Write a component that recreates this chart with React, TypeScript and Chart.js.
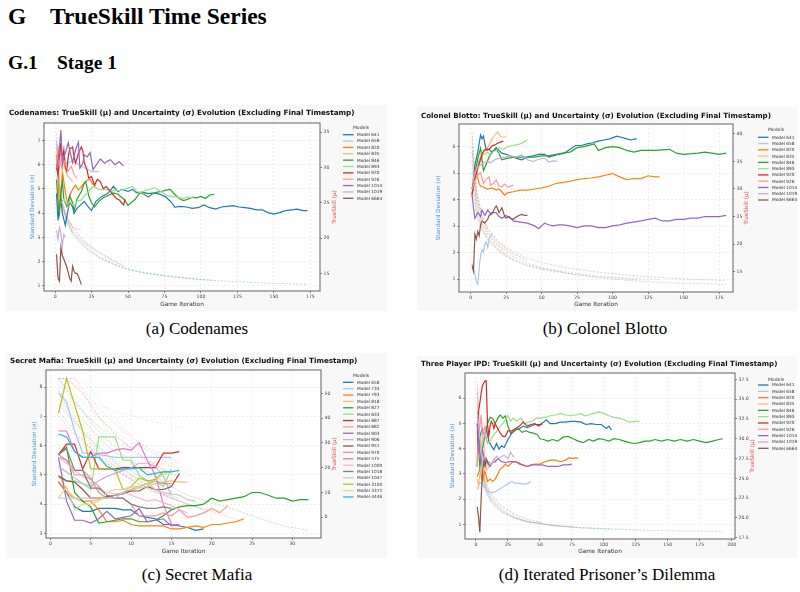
import React, { useEffect, useRef } from "react";
import { Chart, registerables } from "chart.js";
Chart.register(...registerables);

type Pt = [number, number];

const TAB20 = ["#1f77b4","#aec7e8","#ff7f0e","#ffbb78","#2ca02c","#98df8a","#d62728","#ff9896","#9467bd","#c5b0d5","#8c564b","#c49c94","#e377c2","#f7b6d2","#7f7f7f","#c7c7c7","#bcbd22","#dbdb8d","#17becf","#9edae5"];

// ================= (a) Codenames =================
const cnModels = ["Model 641","Model 658","Model 820","Model 835","Model 846","Model 893","Model 920","Model 926","Model 1014","Model 1019","Model 6664"];
const cnMu: Pt[][] = [
  [[1,26.3],[2,22.5],[3,24.5],[4,25.5],[5,23.5],[7,21.8],[8,23.0],[10,25.2],[12,24.4],[13,23.5],[15,24.2],[17,24.6],[20,25.2],[22,24.6],[25,23.9],[28,25.2],[32,25.9],[36,26.3],[40,27.3],[43,26.6],[46,26.9],[50,26.6],[53,26.9],[56,26.4],[60,26.5],[64,26.3],[68,26.4],[72,26.2],[76,25.8],[80,25.0],[82,24.4],[86,24.5],[90,24.4],[94,24.2],[98,24.3],[102,24.7],[106,24.3],[110,24.1],[114,24.4],[118,24.5],[122,24.6],[126,24.4],[130,24.3],[134,24.2],[138,24.0],[142,24.0],[146,23.6],[150,23.4],[154,23.6],[158,23.9],[162,24.0],[166,24.1],[170,23.9],[173,23.9]],
  [[1,33.5],[2,31.5],[4,32.0],[6,31.0],[8,30.5],[11,30.9],[15,30.6],[20,30.0],[25,29.4],[30,29.4]],
  [[1,31.8],[2,29.0],[3,24.0],[4,26.0],[5,29.5],[6,28.0],[7,26.5],[8,25.5],[9,24.5],[10,26.0],[12,26.9],[14,27.5],[16,26.8],[18,27.3],[20,27.8],[22,28.2],[24,28.3],[26,27.6],[28,27.4]],
  [[1,33.0],[2,31.5],[3,32.5],[4,30.5],[5,29.5],[6,31.0],[8,29.0],[10,28.5],[12,28.0]],
  [[1,28.3],[2,25.0],[3,23.5],[4,26.5],[5,28.0],[6,25.5],[8,24.5],[10,26.0],[12,25.0],[13,23.8],[15,25.5],[18,26.6],[20,27.8],[21,28.0],[23,26.0],[25,25.0],[27,24.4],[30,25.2],[33,25.7],[36,26.0],[40,26.4],[43,26.2],[46,25.7],[48,25.3],[50,24.6],[52,25.0],[55,25.5],[58,26.4],[61,26.2],[64,25.8],[67,26.3],[70,26.5],[73,26.6],[76,26.8],[79,26.9],[82,26.2],[85,25.6],[88,25.3],[91,25.5],[94,25.8],[97,25.7],[100,25.9],[103,25.6],[106,26.1],[109,26.2]],
  [[4,24.9],[6,25.5],[8,24.8],[10,25.2],[13,24.5],[15,25.2],[18,25.4],[20,26.0],[23,26.6],[26,27.3],[29,27.0],[32,26.8],[35,26.9],[38,26.6],[41,26.8],[44,26.7],[47,26.9],[50,27.1],[53,27.3],[56,26.6],[59,26.4],[62,26.8],[65,26.9],[68,27.1],[71,26.8],[74,26.4],[77,26.0],[80,25.9],[84,25.8],[88,25.6],[91,25.8],[95,25.7]],
  [[1,30.0],[2,29.0],[3,31.5],[4,33.5],[5,31.0],[6,32.5],[7,30.0],[8,29.5],[9,31.5],[10,32.6],[12,32.9],[13,31.5],[14,30.6],[16,32.0],[18,32.9],[19,32.4],[20,30.7],[22,29.6],[23,28.5],[25,28.7],[27,27.5],[29,28.3],[31,28.0],[33,27.0],[35,27.3],[38,26.6],[40,26.1],[42,25.6],[44,25.4],[46,24.9],[47,24.7],[48,25.6]],
  [[1,31.0],[2,32.5],[3,30.0],[5,31.5],[7,30.5],[9,29.5],[11,30.2],[13,29.0],[15,28.5]],
  [[1,30.1],[2,31.0],[3,33.0],[4,35.3],[5,30.4],[6,31.5],[7,32.0],[9,33.5],[10,32.5],[12,30.7],[14,32.5],[16,33.6],[17,29.9],[19,30.6],[20,31.8],[22,31.5],[24,32.1],[26,29.7],[28,30.3],[31,31.2],[34,30.6],[36,30.9],[38,31.1],[41,30.4],[44,30.8],[47,30.2]],
  [[1,21.1],[2,19.8],[3,21.5],[4,20.6],[5,18.9],[6,20.5],[7,20.1]],
  [[1,17.7],[2,14.3],[3,13.9],[4,18.7],[5,17.5],[6,17.0],[8,15.9],[10,14.3],[11,13.9],[12,16.0],[13,15.3],[14,15.0],[15,15.0],[16,14.6],[18,13.4]],
];
const cnSigma: Pt[][] = [
  [[1,7.3],[3,5.2],[5,4.4],[8,3.7],[12,3.2],[16,2.9],[20,2.65],[25,2.4],[30,2.2],[40,1.9],[50,1.68],[60,1.55],[75,1.42],[90,1.32],[100,1.25],[120,1.18],[140,1.12],[160,1.08],[173,1.06]],
  [[1,6.5],[4,4.5],[8,3.7],[12,3.2],[20,2.7],[30,2.25]],
  [[1,6.0],[4,4.4],[8,3.7],[12,3.2],[20,2.75],[28,2.4]],
  [[1,5.5],[4,4.3],[8,3.8],[12,3.4]],
  [[1,6.2],[3,5.0],[5,4.3],[8,3.6],[12,3.1],[16,2.85],[20,2.6],[25,2.35],[30,2.15],[40,1.88],[50,1.66],[60,1.53],[75,1.4],[90,1.3],[109,1.22]],
  [[1,5.8],[4,4.4],[8,3.7],[12,3.2],[20,2.7],[30,2.2],[40,1.9],[50,1.7],[60,1.56],[75,1.43],[95,1.3]],
  [[1,6.8],[4,4.6],[8,3.9],[12,3.4],[20,2.85],[30,2.4],[40,2.05],[48,1.8]],
  [[1,5.5],[5,4.0],[10,3.6],[15,3.35]],
  [[1,7.0],[4,4.6],[8,3.8],[12,3.3],[20,2.8],[30,2.35],[40,2.0],[47,1.8]],
  [[1,6.8],[3,5.0],[5,4.4],[7,4.0]],
  [[1,6.0],[4,4.5],[8,3.8],[12,3.4],[18,3.3]],
];
const cnXTicks = [0,25,50,75,100,125,150,175];
const cnSigmaTicks = [1,2,3,4,5,6,7];
const cnMuTicks = [15,20,25,30,35];

// ================= (b) Colonel Blotto =================
const cbModels = ["Model 641","Model 658","Model 820","Model 835","Model 846","Model 893","Model 920","Model 926","Model 1014","Model 1019","Model 6664"];
const cbMu: Pt[][] = [
  [[1,29.0],[3,34.3],[5,36.7],[7,39.8],[8,39.1],[9,39.6],[11,37.0],[13,37.2],[15,36.7],[18,37.5],[20,37.0],[22,36.5],[25,36.3],[28,36.0],[30,35.8],[33,35.5],[36,35.3],[40,35.8],[44,36.0],[48,36.3],[52,36.3],[55,35.8],[58,36.0],[62,36.3],[66,36.5],[70,37.2],[74,37.9],[78,37.9],[82,38.2],[86,38.4],[90,38.7],[94,38.9],[98,39.1],[103,39.6],[106,39.4],[110,39.1],[113,38.9],[116,39.1],[117,39.1]],
  [[1,16.5],[2,15.5],[3,14.5],[4,13.2],[5,12.7],[6,15.5],[7,18.0],[8,19.0],[9,18.5],[10,20.0],[11,20.4],[12,19.4],[13,20.9],[14,21.5],[15,21.8]],
  [[1,30.0],[2,31.5],[3,33.0],[4,34.3],[5,32.0],[6,31.0],[7,30.5],[8,30.5],[10,30.2],[12,30.0],[15,30.2],[18,29.8],[20,30.0],[22,29.5],[24,28.9],[26,29.3],[30,29.5],[35,29.8],[40,29.8],[45,30.0],[50,30.2],[55,30.5],[60,31.0],[65,31.2],[70,31.4],[75,31.7],[80,31.9],[85,32.0],[90,32.2],[95,32.5],[100,32.8],[105,32.2],[110,31.7],[115,31.9],[120,31.9],[125,32.4],[130,32.2],[133,32.2]],
  [[1,28.5],[3,32.0],[5,33.5],[7,35.0],[9,36.5],[11,37.2],[13,38.0],[15,39.0],[17,39.8],[19,40.4],[21,39.5],[23,39.4],[25,39.5]],
  [[1,30.0],[3,32.5],[5,35.5],[7,37.4],[9,33.3],[11,34.5],[13,35.8],[15,36.7],[18,37.2],[20,36.5],[22,35.3],[25,35.5],[30,35.8],[35,35.8],[40,35.8],[45,35.8],[50,36.0],[55,36.0],[60,36.3],[65,36.5],[70,36.7],[75,37.5],[80,37.7],[87,38.2],[90,37.0],[95,37.5],[100,37.7],[105,37.5],[110,37.0],[115,36.7],[120,37.0],[130,37.0],[140,37.2],[145,36.5],[150,36.3],[160,36.5],[165,36.7],[170,36.5],[175,36.3],[180,36.5]],
  [[2,31.0],[4,33.5],[6,35.3],[8,36.5],[10,36.3],[12,36.7],[14,36.0],[16,36.8],[18,37.0],[20,37.5],[23,37.2],[26,37.7],[29,37.9],[32,38.0],[35,38.2],[38,38.6],[40,39.0]],
  [[1,29.0],[3,31.9],[5,33.8],[7,35.5],[9,36.9],[11,37.3],[13,37.2],[15,37.8],[17,38.0],[19,38.3],[21,38.5],[23,38.7]],
  [[1,30.0],[3,31.5],[5,32.5],[7,33.0],[9,31.0],[11,31.8],[13,32.2],[14,30.7],[16,31.0],[18,31.7],[20,30.5],[22,30.4],[24,30.9],[26,30.3],[28,30.5],[30,30.7]],
  [[1,29.0],[2,26.5],[3,24.7],[5,25.7],[7,25.0],[8,26.2],[10,25.2],[12,26.2],[14,25.5],[15,25.7],[18,25.7],[20,25.0],[22,24.7],[25,25.2],[28,24.7],[30,24.2],[35,24.0],[40,23.8],[45,23.3],[48,22.8],[52,23.8],[55,23.5],[58,23.3],[62,23.5],[65,23.5],[70,23.3],[75,23.0],[80,23.3],[85,23.3],[90,23.0],[95,23.0],[100,23.3],[105,23.5],[110,23.8],[115,24.0],[120,24.2],[125,24.5],[130,24.7],[135,24.2],[140,24.2],[145,24.5],[150,24.5],[155,24.7],[160,24.7],[165,25.0],[170,25.0],[175,25.0],[180,25.2]],
  [[1,31.0],[3,33.0],[5,34.0],[8,34.5],[11,35.0],[14,34.8],[17,35.3],[20,35.6],[24,35.8],[28,36.0],[32,35.8],[36,36.2],[40,35.3],[44,35.0],[48,35.4],[52,35.6],[55,34.9],[58,35.1],[61,35.0]],
  [[1,16.1],[2,15.1],[3,21.8],[4,20.9],[5,22.3],[6,21.5],[7,23.5],[8,24.2],[10,23.8],[12,24.5],[13,25.2],[15,25.5],[17,26.5],[18,26.9],[19,26.4],[20,25.7],[22,26.6],[24,25.0],[25,24.7],[27,25.0],[28,24.7],[30,24.5],[32,24.9],[34,25.2],[36,25.4],[38,25.2],[40,25.2]],
];
const cbSigma: Pt[][] = [
  [[1,5.0],[4,3.6],[8,2.9],[12,2.5],[20,2.05],[30,1.7],[40,1.5],[50,1.38],[70,1.2],[90,1.08],[117,0.98]],
  [[1,4.5],[4,3.4],[8,2.8],[12,2.5],[15,2.3]],
  [[1,5.5],[4,3.8],[8,3.0],[12,2.6],[20,2.1],[30,1.75],[40,1.55],[50,1.42],[70,1.25],[90,1.12],[110,1.04],[133,0.98]],
  [[1,4.8],[4,3.6],[8,2.9],[12,2.55],[20,2.1],[25,1.95]],
  [[1,6.0],[4,4.2],[8,3.3],[12,2.9],[20,2.4],[30,2.05],[40,1.8],[50,1.62],[70,1.4],[90,1.26],[110,1.15],[130,1.07],[150,1.0],[180,0.95]],
  [[1,5.2],[4,3.9],[8,3.1],[12,2.75],[20,2.3],[30,1.95],[40,1.75]],
  [[1,5.8],[4,4.0],[8,3.1],[12,2.7],[20,2.2],[23,2.1]],
  [[1,4.6],[4,3.5],[8,2.8],[12,2.45],[20,2.0],[30,1.7]],
  [[1,6.3],[4,4.3],[8,3.3],[12,2.8],[20,2.25],[30,1.85],[40,1.6],[50,1.42],[70,1.2],[90,1.05],[110,0.95],[130,0.88],[150,0.84],[180,0.8]],
  [[1,5.6],[4,3.9],[8,3.0],[12,2.6],[20,2.1],[30,1.75],[40,1.5],[50,1.35],[61,1.25]],
  [[1,6.55],[4,4.4],[8,3.4],[12,2.9],[20,2.35],[30,1.95],[40,1.7]],
];
const cbXTicks = [0,25,50,75,100,125,150,175];
const cbSigmaTicks = [1,2,3,4,5,6];
const cbMuTicks = [15,20,25,30,35,40];

// ================= (c) Secret Mafia =================
const smModels = ["Model 658","Model 734","Model 793","Model 818","Model 827","Model 833","Model 887","Model 882","Model 903","Model 906","Model 951","Model 970","Model 575","Model 1000","Model 1018","Model 1047","Model 3100","Model 3372","Model 4446"];
const smMu: Pt[][] = [
  [[1,14.4],[2,10.0],[3,4.2],[4,2.4],[5,2.4],[6,3.6],[7,3.6],[8,3.6],[9,3.0],[10,3.0],[11,0.6],[12,0.0],[13,-0.6],[14,-2.9],[15,-2.9],[16,-3.5],[17,-4.1],[18,-5.3],[19,-4.7]],
  [[1,50.1],[2,46.5],[3,34.8],[4,25.9],[5,25.9],[6,25.3],[7,24.8],[8,24.2],[9,24.2],[10,24.2],[11,24.2],[12,24.2],[13,24.2],[14,24.2],[15,24.2]],
  [[1,14.2],[2,10.0],[3,7.7],[4,6.5],[5,6.5],[6,3.0],[7,-1.8],[8,-1.8],[9,-1.2],[10,-2.9],[11,-3.5],[12,-3.5],[13,-3.5],[14,-3.5],[15,-4.7],[16,-4.7],[17,-4.1],[18,-3.5],[19,-4.1],[20,-2.9],[21,-2.9],[22,-2.3],[23,-1.8],[24,-0.6]],
  [[1,17.1],[2,11.2],[3,7.7],[4,6.5],[5,6.5],[6,7.1],[7,7.7],[8,8.9],[9,10.0],[10,10.6],[11,11.8],[12,12.4],[13,13.6],[14,14.2],[15,14.7],[16,14.2],[17,14.2]],
  [[1,25.3],[2,28.3],[3,10.0],[4,6.5],[5,4.2],[6,-2.3],[7,-1.8],[8,-1.2],[9,-0.6],[10,-0.6],[11,-1.8],[12,-1.8],[13,-1.2],[14,0.6],[15,3.0],[16,4.2],[17,4.7],[18,4.7],[19,5.3],[20,7.7],[21,6.5],[22,7.1],[23,7.7],[24,8.3],[25,10.0],[26,10.0],[27,8.9],[28,7.7],[29,7.7],[30,6.5],[31,7.1],[32,7.1]],
  [[1,17.1],[2,14.7],[3,14.7],[4,13.6],[5,11.2],[6,32.4],[7,32.4],[8,32.4],[9,23.0],[10,23.0],[11,17.1],[12,14.7],[13,14.7],[14,12.4],[15,19.5]],
  [[1,25.3],[2,29.5],[3,29.5],[4,19.5],[5,26.5],[6,19.5],[7,19.5],[8,19.5],[9,20.0],[10,20.0],[11,20.0],[12,20.0],[13,20.0],[14,25.9],[15,25.9],[16,26.5]],
  [[1,24.2],[2,23.0],[3,17.1],[4,17.1],[5,15.3],[6,12.4],[7,8.9],[8,7.7],[9,7.7],[10,5.3],[11,0.6],[12,0.6],[13,0.6],[14,1.8],[15,0.6],[16,3.0],[17,0.0],[18,0.6],[19,1.8],[20,3.6],[21,1.8],[22,4.7]],
  [[1,24.2],[2,6.5],[3,-1.2],[4,-1.2],[5,-2.3],[6,-0.6],[7,2.4],[8,-0.6],[9,0.0],[10,0.6],[11,3.6],[12,-1.8],[13,-1.2],[14,-0.6],[15,-3.5],[16,-2.9]],
  [[1,20.6],[2,18.3],[3,15.9],[4,13.6],[5,12.4],[6,14.7],[7,16.5],[8,17.7],[9,18.9],[10,20.0],[11,21.8],[12,21.8],[13,20.6],[14,16.5],[15,8.9]],
  [[1,16.5],[2,14.7],[3,14.2],[4,11.2],[5,7.7],[6,7.7],[7,8.3],[8,8.9],[9,9.4],[10,10.6],[11,10.6],[12,12.4],[13,11.2],[14,11.2],[15,12.4],[16,17.7]],
  [[1,25.3],[2,23.0],[3,18.9],[4,18.9],[5,15.9],[6,10.0],[7,7.7],[8,8.9],[9,10.0],[10,11.2],[11,12.4],[12,13.6],[13,14.7],[14,13.6],[15,13.6]],
  [[1,34.8],[2,34.8],[3,26.5],[4,24.2],[5,24.2],[6,25.9],[7,25.9],[8,27.1],[9,27.7],[10,27.1],[11,30.1],[12,23.0],[13,17.1],[14,5.3],[15,-2.9],[16,-2.9]],
  [[1,24.2],[2,21.8],[3,18.9],[4,16.5],[5,13.6],[6,11.2],[7,10.0],[8,9.4],[9,10.0],[10,8.9],[11,7.7],[12,6.5],[13,7.1],[14,5.9],[15,4.7],[16,3.0],[17,1.8]],
  [[1,25.3],[2,27.7],[3,18.9],[4,18.9],[5,11.8],[6,11.8],[7,8.9],[8,7.7],[9,7.7],[10,5.3],[11,4.2],[12,3.6],[13,3.6],[14,4.2],[15,3.6]],
  [[1,7.7],[2,7.7],[3,7.7],[4,7.7],[5,7.7],[6,7.7],[7,7.7],[8,7.7],[9,10.0],[10,12.4],[11,12.4],[12,13.6],[13,11.2],[14,10.0],[15,9.4],[16,8.9],[17,7.1],[18,6.5]],
  [[1,41.8],[2,56.0],[3,45.4],[4,34.8],[5,19.5],[6,19.5],[7,19.5],[8,19.5],[9,11.2],[10,12.4],[11,15.9],[12,14.7],[13,15.3],[14,18.3],[15,18.3]],
  [[1,7.7],[2,12.4],[3,3.0],[4,5.3],[5,5.3],[6,6.5],[7,10.0],[8,11.2],[9,11.2],[10,12.4],[11,11.8],[12,12.4],[13,14.7],[14,17.1],[15,18.9]],
  [[1,33.6],[2,32.4],[3,26.5],[4,24.2],[5,24.2],[6,24.2],[7,20.6],[8,18.9],[9,19.5],[10,19.5],[11,20.0],[12,17.1],[13,17.7],[14,18.3],[15,18.3],[16,18.9]],
];
const smSigma: Pt[][] = [
  [[1,7.8],[2,7.3],[4,6.5],[6,5.9],[8,5.4],[10,5.0],[12,4.65],[14,4.35],[16,4.1],[19,3.8]],
  [[1,8.3],[3,7.6],[5,6.9],[7,6.3],[9,5.8],[11,5.4],[13,5.1],[15,4.8]],
  [[1,7.6],[3,6.8],[5,6.1],[7,5.5],[9,5.1],[12,4.6],[15,4.2],[18,3.9],[21,3.65],[24,3.4]],
  [[1,8.3],[3,8.1],[5,7.3],[7,6.6],[9,6.1],[11,5.7],[13,5.4],[15,5.3],[17,5.2]],
  [[1,8.3],[3,7.5],[5,6.8],[7,6.2],[9,5.7],[11,5.3],[13,4.95],[15,4.6],[17,4.3],[20,4.05],[23,3.8],[26,3.5],[29,3.25],[32,3.1]],
  [[1,8.0],[3,7.4],[5,6.9],[7,6.5],[9,6.1],[11,5.8],[13,5.6],[15,5.4]],
  [[1,8.3],[2,8.3],[4,7.8],[6,7.0],[8,6.4],[10,5.9],[12,5.5],[14,5.2],[16,4.9]],
  [[1,7.5],[3,6.7],[5,6.0],[7,5.5],[9,5.05],[11,4.7],[13,4.4],[15,4.2],[17,4.0],[19,3.85],[22,3.65]],
  [[1,7.2],[3,6.5],[5,5.9],[7,5.4],[9,5.0],[11,4.65],[13,4.4],[16,4.1]],
  [[1,8.3],[3,7.8],[5,7.2],[7,6.7],[9,6.3],[11,6.0],[13,5.7],[15,5.5]],
  [[1,7.0],[3,6.4],[5,5.9],[7,5.4],[9,5.0],[11,4.7],[13,4.45],[16,4.2]],
  [[1,8.1],[3,7.5],[5,6.9],[7,6.4],[9,6.0],[11,5.6],[13,5.3],[15,5.05]],
  [[1,8.3],[2,8.3],[3,8.3],[5,7.6],[7,7.0],[9,6.5],[11,6.1],[13,5.8],[16,5.4]],
  [[1,8.3],[3,8.3],[5,7.4],[7,7.3],[9,7.1],[11,6.95],[13,6.8],[15,6.7],[17,6.6]],
  [[1,7.9],[3,7.2],[5,6.6],[7,6.0],[9,5.6],[11,5.2],[13,4.9],[15,4.6]],
  [[1,8.3],[3,8.3],[5,8.0],[7,7.2],[9,6.6],[11,6.1],[13,5.7],[15,5.3],[18,4.9]],
  [[1,7.9],[3,7.0],[5,6.3],[7,5.7],[9,5.2],[11,4.85],[13,4.55],[15,4.3]],
  [[1,7.7],[3,7.1],[5,6.5],[7,6.0],[9,5.6],[11,5.25],[13,4.95],[15,4.7]],
  [[1,7.4],[3,6.8],[5,6.2],[7,5.7],[9,5.3],[11,4.95],[13,4.65],[16,4.3]],
];
const smXTicks = [0,5,10,15,20,25,30];
const smSigmaTicks = [3,4,5,6,7,8];
const smMuTicks = [0,10,20,30,40,50];

// ================= (d) Three Player IPD =================
const ipdModels = ["Model 641","Model 658","Model 820","Model 835","Model 846","Model 893","Model 920","Model 926","Model 1014","Model 1019","Model 6664"];
const ipdMu: Pt[][] = [
  [[1,31.9],[2,28.7],[3,30.3],[5,31.3],[7,30.3],[8,31.3],[10,29.7],[12,29.1],[14,28.6],[16,29.4],[18,28.7],[20,29.1],[22,28.9],[25,29.9],[28,30.7],[31,31.1],[34,31.3],[37,31.6],[40,31.4],[43,31.6],[46,31.8],[50,31.8],[53,32.1],[55,32.4],[58,31.9],[62,31.9],[66,32.1],[70,32.1],[74,32.2],[78,32.2],[82,32.1],[86,31.8],[90,31.9],[94,31.8],[98,31.8],[102,31.3],[104,31.6],[106,31.1]],
  [[1,23.6],[3,24.5],[5,24.3],[8,23.5],[10,23.3],[13,23.2],[15,23.3],[18,23.6],[20,23.8],[22,24.0],[25,24.3],[28,24.6],[30,24.4],[33,24.4],[36,24.3],[38,24.3],[40,24.3],[43,24.6]],
  [[1,25.2],[3,26.2],[5,24.6],[7,25.9],[9,24.6],[11,24.9],[13,24.6],[15,24.9],[17,25.5],[19,26.2],[21,26.4],[23,26.8],[25,26.5],[28,27.0],[31,27.1],[34,26.8],[37,26.7],[40,26.5],[43,26.7],[46,26.8],[50,26.8],[54,27.1],[58,27.3],[62,27.3],[66,27.1],[70,27.3],[73,27.6],[76,27.5],[78,27.6],[80,27.5]],
  [[1,24.9],[2,24.0],[3,25.5],[4,27.0],[5,31.0],[6,29.5],[7,27.5],[8,26.0],[10,26.5],[12,26.8],[14,27.5],[16,27.0]],
  [[1,31.0],[3,26.5],[5,28.7],[7,30.3],[9,31.9],[11,32.7],[13,32.6],[15,31.9],[17,32.6],[19,33.0],[21,32.6],[23,32.9],[25,31.6],[27,30.7],[30,31.0],[33,31.3],[36,30.8],[39,31.0],[42,30.8],[45,30.7],[48,30.5],[50,30.0],[53,29.9],[56,29.7],[60,29.9],[64,29.7],[68,30.2],[72,30.3],[76,30.0],[80,29.7],[84,29.5],[88,29.9],[92,29.7],[96,30.0],[100,29.9],[104,29.7],[108,30.0],[112,29.9],[116,29.7],[120,29.5],[124,29.4],[128,29.5],[132,29.7],[136,29.7],[140,29.9],[145,29.7],[150,29.9],[155,29.7],[160,29.9],[165,29.7],[170,29.9],[175,29.7],[180,29.5],[185,29.7],[190,29.9],[193,30.0]],
  [[1,27.1],[3,28.1],[5,29.4],[7,30.7],[9,29.4],[11,29.7],[13,30.3],[15,30.7],[17,31.1],[19,31.6],[21,31.9],[23,32.4],[25,32.9],[27,32.2],[29,32.6],[32,32.2],[35,32.6],[38,31.9],[41,32.1],[44,32.2],[47,32.6],[50,32.6],[54,32.7],[58,32.9],[62,33.0],[66,33.2],[70,33.0],[74,32.9],[78,33.0],[82,33.2],[85,32.9],[88,33.0],[92,33.2],[96,33.4],[100,33.2],[104,32.9],[108,32.7],[112,32.6],[116,32.4],[120,32.1],[124,32.2],[128,32.2]],
  [[1,26.5],[2,33.5],[3,34.5],[4,35.7],[5,36.7],[6,37.0],[7,37.3],[8,37.3],[9,31.9],[10,30.3],[11,31.6],[12,32.2],[13,31.9],[14,31.3],[15,31.9],[17,31.3],[19,30.7],[21,30.3],[23,30.3],[25,31.0],[28,31.0],[31,31.3],[34,31.6],[37,32.1],[40,31.6],[43,31.8],[46,31.9],[49,31.6],[52,31.9]],
  [[1,26.5],[2,30.3],[3,31.5],[4,33.0],[5,30.6],[6,31.0],[7,31.5],[8,30.0],[9,29.5]],
  [[1,31.9],[2,29.7],[3,28.1],[4,27.1],[5,28.7],[6,27.8],[7,26.8],[9,27.1],[11,26.5],[13,27.0],[15,27.1],[17,27.5],[20,27.1],[23,27.0],[26,27.1],[30,27.1],[33,27.0],[36,26.7],[40,26.5],[44,26.7],[48,26.7],[52,26.7],[56,26.5],[60,26.5],[64,26.5],[68,26.7],[72,26.7],[75,26.8]],
  [[1,33.5],[3,30.0],[5,27.1],[8,26.5],[10,27.1],[12,26.8],[14,27.3],[16,27.8],[18,27.5],[20,27.8],[22,27.9],[25,27.5],[27,28.3],[29,27.8],[30,27.8]],
  [[1,21.4],[2,20.1],[3,18.2],[4,22.4],[5,25.5],[6,27.1],[7,26.5],[8,27.5],[9,27.1],[10,26.7]],
];
const ipdSigma: Pt[][] = [
  [[1,5.5],[4,3.2],[8,2.3],[12,1.9],[20,1.5],[30,1.25],[40,1.1],[60,0.95],[80,0.87],[106,0.82]],
  [[1,5.0],[4,3.0],[8,2.2],[12,1.85],[20,1.45],[30,1.2],[43,1.05]],
  [[1,5.8],[4,3.4],[8,2.4],[12,2.0],[20,1.55],[30,1.28],[40,1.12],[60,0.97],[80,0.88]],
  [[1,4.8],[4,3.1],[8,2.35],[12,1.95],[16,1.75]],
  [[1,6.2],[4,3.5],[8,2.5],[12,2.05],[20,1.6],[30,1.3],[40,1.13],[60,0.96],[80,0.87],[100,0.82],[130,0.77],[160,0.74],[193,0.72]],
  [[1,6.0],[4,3.4],[8,2.45],[12,2.0],[20,1.57],[30,1.28],[40,1.12],[60,0.97],[80,0.88],[100,0.83],[128,0.79]],
  [[1,6.4],[4,3.6],[8,2.6],[12,2.15],[20,1.7],[30,1.4],[40,1.2],[52,1.08]],
  [[1,6.7],[3,4.5],[5,3.6],[7,3.1],[9,2.8]],
  [[1,5.3],[4,3.2],[8,2.3],[12,1.9],[20,1.5],[30,1.25],[40,1.1],[60,0.95],[75,0.9]],
  [[1,6.6],[4,3.8],[8,2.7],[12,2.2],[20,1.75],[30,1.45]],
  [[1,5.0],[4,3.3],[7,2.6],[10,2.3]],
];
const ipdXTicks = [0,25,50,75,100,125,150,175,200];
const ipdSigmaTicks = [1,2,3,4,5,6];
const ipdMuTicks = [17.5,20,22.5,25,27.5,30,32.5,35,37.5];

// ================= layout specs =================
interface Spec {
  title: string; models: string[]; mu: Pt[][]; sigma: Pt[][];
  xTicks: number[]; sTicks: number[]; mTicks: number[]; mDec: number;
  left: number; top: number; w: number; h: number;
  plot: [number, number, number, number];
  xRange: [number, number]; sRange: [number, number]; mRange: [number, number];
  titleX: number; titleY: number; titleW: number;
  sTitleX: number; mTitleX: number; xTitleY: number;
  legX: number; legTitleY: number; legY0: number; legDy: number;
}

const specs: Spec[] = [
  { title: "Codenames: TrueSkill (\u03bc) and Uncertainty (\u03c3) Evolution (Excluding Final Timestamp)",
    models: cnModels, mu: cnMu, sigma: cnSigma, xTicks: cnXTicks, sTicks: cnSigmaTicks, mTicks: cnMuTicks, mDec: 0,
    left: 6, top: 105, w: 381, h: 206, plot: [38, 18, 314, 186],
    xRange: [-7.6, 181.6], sRange: [0.78, 7.73], mRange: [12.5, 36.3],
    titleX: 3, titleY: 7.7, titleW: 346, sTitleX: 26.7, mTitleX: 329, xTitleY: 199,
    legX: 337, legTitleY: 23, legY0: 29.7, legDy: 6.36 },
  { title: "Colonel Blotto: TrueSkill (\u03bc) and Uncertainty (\u03c3) Evolution (Excluding Final Timestamp)",
    models: cbModels, mu: cbMu, sigma: cbSigma, xTicks: cbXTicks, sTicks: cbSigmaTicks, mTicks: cbMuTicks, mDec: 0,
    left: 417, top: 107, w: 380, h: 204, plot: [42, 17, 316, 185],
    xRange: [-8.2, 184.8], sRange: [0.51, 6.86], mRange: [11.3, 41.8],
    titleX: 4, titleY: 9, titleW: 351, sTitleX: 22, mTitleX: 330, xTitleY: 197,
    legX: 341, legTitleY: 23, legY0: 30.3, legDy: 6.27 },
  { title: "Secret Mafia: TrueSkill (\u03bc) and Uncertainty (\u03c3) Evolution (Excluding Final Timestamp)",
    models: smModels, mu: smMu, sigma: smSigma, xTicks: smXTicks, sTicks: smSigmaTicks, mTicks: smMuTicks, mDec: 0,
    left: 6, top: 353, w: 381, h: 205, plot: [40, 17, 315, 185],
    xRange: [-0.55, 33.55], sRange: [2.84, 8.59], mRange: [-8.35, 59.4],
    titleX: 4, titleY: 8, titleW: 348, sTitleX: 28.3, mTitleX: 329, xTitleY: 198.7,
    legX: 337, legTitleY: 23, legY0: 29.3, legDy: 6.37 },
  { title: "Three Player IPD: TrueSkill (\u03bc) and Uncertainty (\u03c3) Evolution (Excluding Final Timestamp)",
    models: ipdModels, mu: ipdMu, sigma: ipdSigma, xTicks: ipdXTicks, sTicks: ipdSigmaTicks, mTicks: ipdMuTicks, mDec: 1,
    left: 417, top: 356, w: 380, h: 202, plot: [48, 17, 318, 183],
    xRange: [-8.6, 202.6], sRange: [0.42, 7.0], mRange: [17.34, 38.3],
    titleX: 4, titleY: 8, titleW: 357, sTitleX: 35.7, mTitleX: 335.3, xTitleY: 195.7,
    legX: 341, legTitleY: 23.3, legY0: 29, legDy: 6.33 },
];

const FONT = '"DejaVu Sans", "Liberation Sans", sans-serif';

function rgba(hex: string, a: number) {
  const n = parseInt(hex.slice(1), 16);
  return `rgba(${n >> 16},${(n >> 8) & 255},${n & 255},${a})`;
}

function makeDeco(sp: Spec) {
  return {
    id: "deco",
    beforeDraw(chart: any) {
      const { ctx, chartArea: a, width, height } = chart;
      ctx.save();
      ctx.fillStyle = "#f8f8f8";
      ctx.fillRect(0, 0, width, height);
      ctx.fillStyle = "#ffffff";
      ctx.fillRect(a.left, a.top, a.right - a.left, a.bottom - a.top);
      ctx.restore();
    },
    afterDatasetsDraw(chart: any) {
      const { ctx, chartArea: a } = chart;
      ctx.save();
      ctx.strokeStyle = "#707070";
      ctx.lineWidth = 1.1;
      ctx.strokeRect(a.left, a.top, a.right - a.left, a.bottom - a.top);
      ctx.restore();
    },
    afterDraw(chart: any) {
      const { ctx, chartArea: a } = chart;
      ctx.save();
      ctx.font = `bold 10px ${FONT}`;
      const tw = ctx.measureText(sp.title).width;
      const fs = (10 * sp.titleW) / tw;
      ctx.font = `bold ${fs}px ${FONT}`;
      ctx.fillStyle = "#111";
      ctx.textBaseline = "middle";
      ctx.textAlign = "left";
      ctx.fillText(sp.title, sp.titleX, sp.titleY);
      const cy = (a.top + a.bottom) / 2;
      ctx.font = `5.7px ${FONT}`;
      ctx.textAlign = "center";
      ctx.fillStyle = "#4a8fcb";
      ctx.save();
      ctx.translate(sp.sTitleX, cy);
      ctx.rotate(-Math.PI / 2);
      ctx.fillText("Standard Deviation (\u03c3)", 0, 0);
      ctx.restore();
      ctx.fillStyle = "#dd4b4b";
      ctx.save();
      ctx.translate(sp.mTitleX, cy);
      ctx.rotate(-Math.PI / 2);
      ctx.fillText("TrueSkill (\u03bc)", 0, 0);
      ctx.restore();
      ctx.fillStyle = "#333";
      ctx.font = `5.8px ${FONT}`;
      ctx.fillText("Game Iteration", (a.left + a.right) / 2, sp.xTitleY);
      ctx.font = `4.6px ${FONT}`;
      ctx.fillStyle = "#333";
      ctx.fillText("Models", sp.legX + 18, sp.legTitleY);
      ctx.font = `4.3px ${FONT}`;
      ctx.textAlign = "left";
      sp.models.forEach((m, i) => {
        const y = sp.legY0 + i * sp.legDy;
        ctx.strokeStyle = TAB20[i];
        ctx.lineWidth = 1.3;
        ctx.beginPath();
        ctx.moveTo(sp.legX, y);
        ctx.lineTo(sp.legX + 10.5, y);
        ctx.stroke();
        ctx.fillStyle = "#333";
        ctx.fillText(m, sp.legX + 14, y + 0.3);
      });
      ctx.restore();
    },
  };
}

function PanelChart({ sp }: { sp: Spec }) {
  const ref = useRef<HTMLCanvasElement | null>(null);
  useEffect(() => {
    if (!ref.current) return;
    const muSets = sp.mu.map((d, i) => ({
      label: sp.models[i] + " \u03bc",
      data: d.map(([x, y]) => ({ x, y })),
      yAxisID: "y1",
      borderColor: TAB20[i],
      borderWidth: 1.2,
      pointRadius: 0,
      tension: 0,
      fill: false,
    })).reverse();
    const sigSets = sp.sigma.map((d, i) => ({
      label: sp.models[i] + " \u03c3",
      data: d.map(([x, y]) => ({ x, y })),
      yAxisID: "y",
      borderColor: rgba(TAB20[i], 0.36),
      borderWidth: 0.8,
      borderDash: [2.2, 1.4],
      pointRadius: 0,
      tension: 0,
      fill: false,
    })).reverse();
    const tickFont = { family: FONT, size: 4.6 };
    const gridOn = {
      color: "rgba(0,0,0,0.12)", lineWidth: 0.6, drawTicks: true, tickLength: 2,
      tickColor: "#555", tickWidth: 0.7,
    };
    const chart = new Chart(ref.current, {
      type: "line",
      data: { datasets: [...muSets, ...sigSets] as any },
      options: {
        responsive: false,
        animation: false,
        events: [],
        layout: { padding: { left: 0, right: 0, top: sp.plot[1], bottom: 0 }, autoPadding: false } as any,
        plugins: { legend: { display: false }, tooltip: { enabled: false }, title: { display: false } },
        scales: {
          x: {
            type: "linear", position: "bottom", min: sp.xRange[0], max: sp.xRange[1],
            afterBuildTicks: (s: any) => { s.ticks = sp.xTicks.map((v) => ({ value: v })); },
            afterFit: (s: any) => { s.height = sp.h - sp.plot[3]; },
            grid: gridOn,
            border: { display: false, dash: [2, 2] },
            ticks: { font: tickFont, color: "#444", padding: 1.5, maxRotation: 0, autoSkip: false, callback: (v: any) => String(v) },
          },
          y: {
            type: "linear", position: "left", min: sp.sRange[0], max: sp.sRange[1],
            afterBuildTicks: (s: any) => { s.ticks = sp.sTicks.map((v) => ({ value: v })); },
            afterFit: (s: any) => { s.width = sp.plot[0]; },
            grid: gridOn,
            border: { display: false, dash: [2, 2] },
            ticks: { font: tickFont, color: "#444", padding: 1.5, autoSkip: false, callback: (v: any) => String(v) },
          },
          y1: {
            type: "linear", position: "right", min: sp.mRange[0], max: sp.mRange[1],
            afterBuildTicks: (s: any) => { s.ticks = sp.mTicks.map((v) => ({ value: v })); },
            afterFit: (s: any) => { s.width = sp.w - sp.plot[2]; },
            grid: { ...gridOn, drawOnChartArea: false },
            border: { display: false },
            ticks: { font: tickFont, color: "#444", padding: 1.5, autoSkip: false, callback: (v: any) => Number(v).toFixed(sp.mDec) },
          },
        },
      } as any,
      plugins: [makeDeco(sp)],
    });
    return () => chart.destroy();
  }, [sp]);
  return (
    <canvas
      ref={ref}
      width={sp.w}
      height={sp.h}
      style={{ position: "absolute", left: sp.left, top: sp.top, width: sp.w, height: sp.h }}
    />
  );
}

const captions = [
  { text: "(a) Codenames", cx: 197, top: 320 },
  { text: "(b) Colonel Blotto", cx: 605, top: 320 },
  { text: "(c) Secret Mafia", cx: 197, top: 566 },
  { text: "(d) Iterated Prisoner\u2019s Dilemma", cx: 607, top: 566 },
];

export default function App() {
  const serif = '"Liberation Serif", "Times New Roman", serif';
  return (
    <div style={{ position: "absolute", left: 0, top: 0, width: 800, height: 592, background: "#fff", overflow: "hidden" }}>
      <div style={{ position: "absolute", left: 8, top: 4.5, fontFamily: serif, fontWeight: "bold", fontSize: 23.5, lineHeight: "23.5px", whiteSpace: "nowrap", color: "#000" }}>G</div>
      <div style={{ position: "absolute", left: 50, top: 4.5, fontFamily: serif, fontWeight: "bold", fontSize: 23.5, lineHeight: "23.5px", whiteSpace: "nowrap", color: "#000" }}>TrueSkill Time Series</div>
      <div style={{ position: "absolute", left: 8, top: 52.7, fontFamily: serif, fontWeight: "bold", fontSize: 19.5, lineHeight: "19.5px", whiteSpace: "nowrap", color: "#000" }}>G.1</div>
      <div style={{ position: "absolute", left: 57, top: 52.7, fontFamily: serif, fontWeight: "bold", fontSize: 19.5, lineHeight: "19.5px", whiteSpace: "nowrap", color: "#000" }}>Stage 1</div>
      {specs.map((sp, i) => <PanelChart key={i} sp={sp} />)}
      {captions.map((c, i) => (
        <div key={i} style={{ position: "absolute", left: c.cx - 200, width: 400, top: c.top, textAlign: "center", fontFamily: serif, fontSize: 17, lineHeight: "17px", whiteSpace: "nowrap", color: "#000" }}>{c.text}</div>
      ))}
    </div>
  );
}
